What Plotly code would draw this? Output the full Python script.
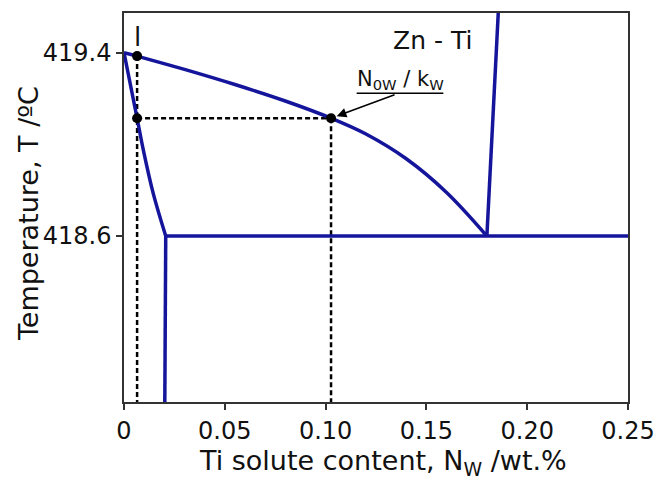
import plotly.graph_objects as go

# ---- data (wt.% Ti, temperature in degC) ----
liquidus_x = [0.0, 0.0065, 0.03, 0.055, 0.08, 0.1027, 0.12, 0.14, 0.16, 0.180]
liquidus_y = [419.4, 419.385, 419.327, 419.261, 419.189, 419.114, 419.045, 418.937, 418.79, 418.6]

solidus_x = [0.0, 0.0065, 0.0096, 0.0145, 0.0207]
solidus_y = [419.4, 419.114, 418.975, 418.786, 418.6]

solvus_x = [0.0207, 0.0202]
solvus_y = [418.6, 417.80]

eutectic_x = [0.0207, 0.25]
eutectic_y = [418.6, 418.6]

right_x = [0.180, 0.1858]
right_y = [418.6, 419.6]

dots_x = [0.0065, 0.0065, 0.1027]
dots_y = [419.385, 419.114, 419.114]

dash_v1_x = [0.0065, 0.0065]
dash_v1_y = [419.385, 417.80]
dash_h_x = [0.0065, 0.1027]
dash_h_y = [419.114, 419.114]
dash_v2_x = [0.1027, 0.1027]
dash_v2_y = [419.114, 417.80]

x_ticks = [0, 0.05, 0.10, 0.15, 0.20, 0.25]
x_ticklabels = ["0", "0.05", "0.10", "0.15", "0.20", "0.25"]
y_ticks = [418.6, 419.4]
y_ticklabels = ["418.6", "419.4"]

x_range = [0, 0.25]
y_range = [417.876, 419.573]

BLUE = "#15159c"
FONT = "DejaVu Sans"

fig = go.Figure()

for xs, ys in [(dash_v1_x, dash_v1_y), (dash_h_x, dash_h_y), (dash_v2_x, dash_v2_y)]:
    fig.add_trace(go.Scatter(x=xs, y=ys, mode="lines",
                             line=dict(color="black", width=2.5, dash="5px,3px"),
                             hoverinfo="skip"))

for xs, ys, shape in [(liquidus_x, liquidus_y, "spline"), (solidus_x, solidus_y, "spline"),
                      (solvus_x, solvus_y, "linear"), (eutectic_x, eutectic_y, "linear"),
                      (right_x, right_y, "linear")]:
    fig.add_trace(go.Scatter(x=xs, y=ys, mode="lines",
                             line=dict(color=BLUE, width=3.5, shape=shape, smoothing=1.0),
                             hoverinfo="skip"))

fig.add_trace(go.Scatter(x=dots_x, y=dots_y, mode="markers",
                         marker=dict(color="black", size=10), hoverinfo="skip"))

axis_common = dict(showgrid=False, zeroline=False, showline=True, linecolor="#333",
                   linewidth=1.5, mirror=True, ticks="outside", ticklen=6,
                   tickcolor="#333", tickwidth=1.5, automargin=False,
                   tickfont=dict(family=FONT, size=24, color="#111"))

fig.update_xaxes(range=x_range, tickvals=x_ticks, ticktext=x_ticklabels, **axis_common)
fig.update_yaxes(range=y_range, tickvals=y_ticks, ticktext=y_ticklabels, **axis_common)

annotations = [
    dict(text="Temperature, T /ºC", xref="paper", yref="paper", x=0, y=0.483,
         xshift=-96, textangle=-90, showarrow=False,
         font=dict(family=FONT, size=27, color="#111"), xanchor="center", yanchor="middle"),
    dict(text="Ti solute content, N<sub>W</sub> /wt.%", xref="paper", yref="paper",
         x=0.514, y=0, yshift=-60, showarrow=False,
         font=dict(family=FONT, size=27, color="#111"), xanchor="center", yanchor="middle"),
    dict(text="Zn - Ti", xref="x", yref="y", x=0.1528, y=419.455, showarrow=False,
         font=dict(family=FONT, size=25, color="#111"), xanchor="center", yanchor="middle"),
    dict(text="N<sub>0W</sub> / k<sub>W</sub>", xref="x", yref="y", x=0.137, y=419.28,
         showarrow=False, font=dict(family=FONT, size=21, color="#111"),
         xanchor="center", yanchor="middle"),
    dict(text="", xref="x", yref="y", x=dots_x[2], y=dots_y[2], ax=65, ay=-24,
         showarrow=True, arrowhead=2, arrowsize=1.3, arrowwidth=1.5, arrowcolor="black",
         standoff=6),
    dict(text="l", xref="x", yref="y", x=dots_x[0], y=419.47, showarrow=False,
         font=dict(family=FONT, size=26, color="#111"), xanchor="center", yanchor="middle"),
]

fig.add_shape(type="line", xref="x", yref="y", x0=0.1154, x1=0.1584, y0=419.223, y1=419.223,
              line=dict(color="black", width=1.5))

fig.update_layout(width=657, height=480, margin=dict(l=124, r=29, t=13, b=78),
                  paper_bgcolor="white", plot_bgcolor="white", showlegend=False,
                  annotations=annotations)

fig.write_html("out.html", config={"displayModeBar": False},
               post_script="document.body.style.margin='0';")
